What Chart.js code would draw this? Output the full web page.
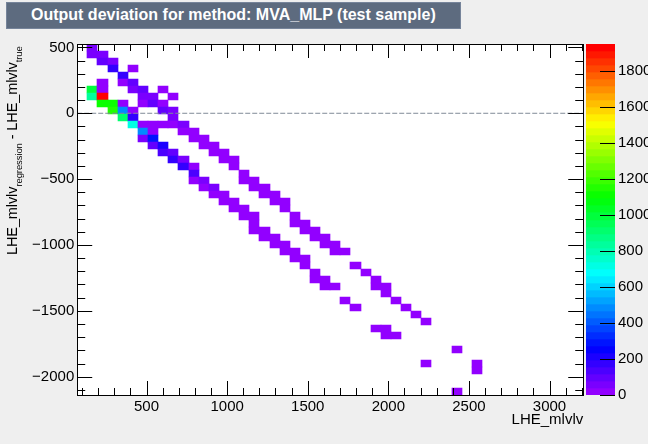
<!DOCTYPE html>
<html>
<head>
<meta charset="utf-8">
<script src="https://cdn.jsdelivr.net/npm/chart.js@4"></script>
<style>
  html, body { margin: 0; padding: 0; background: #efefef; }
  body { width: 648px; height: 444px; overflow: hidden; position: relative; font-family: "Liberation Sans", sans-serif; }
  canvas { position: absolute; top: 0; }
  #title { position: absolute; left: 6px; top: 2px; width: 455px; height: 27px; box-sizing: border-box; background: #5d6b7f; border: 1px solid #76849a;
           color: #fff; font-weight: bold; font-size: 16px; line-height: 24px; padding-left: 24px; white-space: nowrap; }
  #ytitle { position: absolute; left: 2px; top: 255px; font-size: 14.5px; line-height: 20px; letter-spacing: -0.1px; white-space: nowrap; color: #000;
            transform-origin: 0 0; transform: rotate(-90deg) ; }
  #ytitle sub { font-size: 9.5px; vertical-align: -5px; line-height: 0; }
</style>
</head>
<body>
<canvas id="hist" width="648" height="444" style="left:0"></canvas>
<canvas id="palette" width="63" height="444" style="left:585px"></canvas>
<div id="title">Output deviation for method: MVA_MLP (test sample)</div>
<div id="ytitle">LHE_mlvlv<sub>regression</sub> - LHE_mlvlv<sub>true</sub></div>
<script>
'use strict';

// histogram axes, 50 x 50 bins
var xMin = 70, xMax = 3209, yMin = -2139, yMax = 526, zMax = 1950, nBins = 50;

var xTicks = [500, 1000, 1500, 2000, 2500, 3000];
var yTicks = [500, 0, -500, -1000, -1500, -2000];
var zTicks = [0, 200, 400, 600, 800, 1000, 1200, 1400, 1600, 1800];

// filled cells: bin row (from the top), bin column, entries
var cellRows = [
  0,
  1, 1,
  2, 2,
  3, 3,
  4,
  5, 5, 5,
  6, 6, 6, 6, 6,
  7, 7, 7, 7, 7,
  8, 8, 8, 8, 8, 8,
  9, 9, 9, 9, 9,
  10, 10, 10,
  11, 11, 11, 11, 11, 11,
  12, 12, 12, 12,
  13, 13, 13, 13,
  14, 14, 14, 14,
  15, 15, 15, 15,
  16, 16, 16, 16,
  17, 17, 17,
  18, 18,
  19, 19, 19, 19,
  20, 20, 20, 20,
  21, 21, 21, 21,
  22, 22, 22, 22,
  23, 23, 23,
  24, 24, 24,
  25, 25, 25,
  26, 26, 26, 26,
  27, 27, 27, 27,
  28, 28, 28, 28,
  29, 29, 29, 29,
  30, 30,
  31, 31,
  32, 32,
  33, 33, 33,
  34, 34, 34, 34,
  35,
  36, 36,
  37, 37,
  38,
  39,
  40, 40,
  41, 41,
  43,
  45, 45,
  46,
  49
];
var cellCols = [
  1,
  1, 2,
  2, 3,
  3, 5,
  4,
  2, 4, 5,
  1, 2, 5, 6, 8,
  1, 2, 6, 7, 9,
  2, 3, 4, 6, 7, 8,
  3, 4, 5, 8, 9,
  4, 5, 9,
  5, 6, 7, 8, 9, 10,
  6, 7, 10, 11,
  6, 7, 11, 12,
  7, 8, 12, 13,
  8, 9, 13, 14,
  9, 10, 14, 15,
  10, 11, 15,
  11, 16,
  11, 12, 16, 17,
  12, 13, 17, 18,
  13, 14, 18, 19,
  14, 15, 19, 20,
  15, 16, 20,
  16, 17, 21,
  17, 21, 22,
  17, 18, 22, 23,
  18, 19, 23, 24,
  19, 20, 24, 25,
  20, 21, 25, 26,
  21, 22,
  22, 27,
  23, 28,
  23, 24, 29,
  24, 25, 29, 30,
  30,
  26, 31,
  27, 32,
  33,
  34,
  29, 30,
  30, 31,
  37,
  34, 39,
  39,
  37
];
var cellCounts = [
  60,
  40, 40,
  100, 60,
  180, 20,
  180,
  20, 30, 90,
  1000, 20, 60, 110, 20,
  850, 1930, 60, 60, 20,
  1130, 1130, 30, 30, 110, 30,
  1150, 480, 30, 90, 40,
  920, 180, 40,
  720, 30, 30, 30, 30, 70,
  470, 30, 20, 20,
  60, 280, 20, 20,
  100, 220, 20, 20,
  120, 100, 20, 20,
  180, 70, 20, 20,
  170, 30, 20,
  130, 20,
  30, 70, 20, 20,
  20, 70, 20, 20,
  20, 20, 20, 20,
  20, 20, 20, 20,
  20, 20, 20,
  20, 20, 20,
  20, 20, 20,
  20, 20, 20, 20,
  20, 20, 20, 20,
  20, 20, 20, 20,
  20, 20, 20, 20,
  20, 20,
  20, 20,
  20, 20,
  20, 20, 20,
  20, 20, 20, 20,
  20,
  20, 20,
  20, 20,
  20,
  20,
  20, 20,
  20, 20,
  20,
  20, 20,
  20,
  20
];

var tickFont = { family: '"Liberation Sans"', size: 15 };

// ROOT rainbow palette
function paletteColor(i) {
  return 'hsl(' + (280 - (i + 1) * 5.6) + ',100%,50%)';
}
function countColor(v) {
  return paletteColor(Math.min(nBins - 1, Math.floor(v / zMax * nBins)));
}

var binW = (xMax - xMin) / nBins;
var binH = (yMax - yMin) / nBins;

var cells = cellRows.map(function (row, k) {
  return {
    x: xMin + (cellCols[k] + 0.5) * binW,
    y: [yMax - (row + 1) * binH, yMax - row * binH]
  };
});

function plainLabel(v) {
  return String(v).replace('-', '\u2212');
}

// white pad behind the cells
var padFill = {
  id: 'padFill',
  beforeDraw: function (chart) {
    var a = chart.chartArea;
    chart.ctx.save();
    chart.ctx.fillStyle = '#fff';
    chart.ctx.fillRect(a.left, a.top, a.width, a.height);
    chart.ctx.restore();
  }
};

// bar edges go to whole pixels so neighbouring bins have no blurred seam
var snapBars = {
  id: 'snapBars',
  afterDatasetsUpdate: function (chart) {
    chart.data.datasets.forEach(function (ds, n) {
      if (ds.type === 'line') return;
      chart.getDatasetMeta(n).data.forEach(function (bar) {
        var left = Math.round(bar.x - bar.width / 2);
        var right = Math.round(bar.x + bar.width / 2);
        bar.width = right - left;
        bar.x = left + bar.width / 2;
        bar.y = Math.round(bar.y);
        bar.base = Math.round(bar.base);
      });
    });
  }
};

// tick marks point inwards on all sides, so they are drawn here
var frameTicks = {
  id: 'frameTicks',
  afterDatasetsDraw: function (chart) {
    var ctx = chart.ctx, a = chart.chartArea, v, px, len;
    ctx.save();
    ctx.strokeStyle = '#000';
    ctx.lineWidth = 1;
    ctx.beginPath();
    for (v = 100; v <= 3200; v += 100) {
      px = Math.round(chart.scales.x.getPixelForValue(v)) + 0.5;
      len = v % 500 === 0 ? 14 : 7;
      ctx.moveTo(px, a.bottom); ctx.lineTo(px, a.bottom - len);
      ctx.moveTo(px, a.top); ctx.lineTo(px, a.top + len);
    }
    for (v = -2100; v <= 500; v += 100) {
      px = Math.round(chart.scales.y.getPixelForValue(v)) + 0.5;
      len = v % 500 === 0 ? 15 : 8;
      ctx.moveTo(a.left, px); ctx.lineTo(a.left + len, px);
      ctx.moveTo(a.right, px); ctx.lineTo(a.right - len, px);
    }
    ctx.stroke();
    ctx.strokeRect(Math.round(a.left) + 0.5, Math.round(a.top) + 0.5, Math.round(a.width), a.height);
    ctx.restore();
  }
};

new Chart(document.getElementById('hist'), {
  type: 'bar',
  data: {
    datasets: [{
      type: 'line',
      data: [{ x: xMin, y: 0 }, { x: xMax, y: 0 }],
      borderColor: '#808a98',
      borderWidth: 1,
      borderDash: [5, 2],
      pointRadius: 0
    }, {
      data: cells,
      backgroundColor: cellCounts.map(countColor),
      barThickness: 10.12,
      borderWidth: 0
    }]
  },
  options: {
    responsive: false,
    animation: false,
    layout: { padding: { top: 44, right: 64.78, left: 0, bottom: 0 } },
    plugins: { legend: { display: false }, tooltip: { enabled: false } },
    scales: {
      x: {
        type: 'linear', min: xMin, max: xMax, offset: false,
        grid: { display: false, drawTicks: false }, border: { display: false },
        afterBuildTicks: function (s) { s.ticks = xTicks.map(function (v) { return { value: v }; }); },
        afterFit: function (s) { s.height = 49; },
        ticks: { color: '#000', font: tickFont, padding: 3, maxRotation: 0, autoSkip: false, callback: plainLabel },
        title: { display: true, text: 'LHE_mlvlv', align: 'end', color: '#000', font: tickFont, padding: { top: 0, bottom: 15 } }
      },
      y: {
        type: 'linear', min: yMin, max: yMax,
        grid: { display: false, drawTicks: false }, border: { display: false },
        afterBuildTicks: function (s) { s.ticks = yTicks.map(function (v) { return { value: v }; }); },
        afterFit: function (s) { s.width = 77.22; },
        ticks: { color: '#000', font: tickFont, padding: 3, autoSkip: false, callback: plainLabel }
      }
    }
  },
  plugins: [padFill, snapBars, frameTicks]
});

// colour scale next to the histogram
var zBands = [];
var zColors = [];
for (var i = 0; i < nBins; i++) {
  zBands.push({ x: 0.5, y: [i * zMax / nBins, (i + 1) * zMax / nBins] });
  zColors.push(paletteColor(i));
}

var zTickMarks = {
  id: 'zTickMarks',
  afterDatasetsDraw: function (chart) {
    var ctx = chart.ctx, a = chart.chartArea;
    ctx.save();
    ctx.strokeStyle = '#000';
    ctx.beginPath();
    zTicks.forEach(function (v) {
      var py = Math.round(chart.scales.y.getPixelForValue(v)) + 0.5;
      ctx.moveTo(a.right, py);
      ctx.lineTo(a.right - 15, py);
    });
    ctx.stroke();
    ctx.restore();
  }
};

new Chart(document.getElementById('palette'), {
  type: 'bar',
  data: { datasets: [{ data: zBands, backgroundColor: zColors, barThickness: 30, borderWidth: 0 }] },
  options: {
    responsive: false,
    animation: false,
    layout: { padding: { top: 44, left: 1, right: 0, bottom: 0 } },
    plugins: { legend: { display: false }, tooltip: { enabled: false } },
    scales: {
      x: {
        type: 'linear', min: 0, max: 1, offset: false, display: true,
        grid: { display: false, drawTicks: false }, border: { display: false },
        ticks: { display: false },
        afterFit: function (s) { s.height = 49; }
      },
      y: {
        type: 'linear', position: 'right', min: 0, max: zMax,
        grid: { display: false, drawTicks: false }, border: { display: false },
        afterBuildTicks: function (s) { s.ticks = zTicks.map(function (v) { return { value: v }; }); },
        afterFit: function (s) { s.width = 33; },
        ticks: { color: '#000', font: tickFont, padding: 3, autoSkip: false, callback: plainLabel }
      }
    }
  },
  plugins: [zTickMarks, snapBars]
});
</script>
</body>
</html>
